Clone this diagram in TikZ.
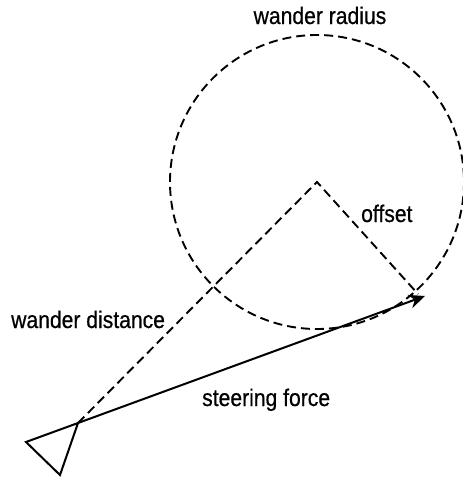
\documentclass[tikz,border=0pt]{standalone}
\usepackage{fontspec}
\setmainfont{Liberation Sans}[FakeStretch=0.88,FakeBold=0.6]
\usetikzlibrary{arrows.meta}
\begin{document}
\begin{tikzpicture}[x=1pt,y=-1pt,
  dline/.style={line width=1.9pt,dash pattern=on 9pt off 5pt},
  sline/.style={line width=2pt},
  lbl/.style={font=\fontsize{24}{27}\selectfont,inner sep=0pt,anchor=base}]
\useasboundingbox (0,0) rectangle (463,477);
\coordinate (c) at (317,182);
\coordinate (tip) at (425,296);
\coordinate (a) at (78,423);
\coordinate (l) at (26,442);
\coordinate (b) at (60,475);
\draw[dline] (c) circle[radius=147];
\draw[dline] (a) -- (c) -- (418,294);
\draw[sline,-{Stealth[length=16pt,width=14pt]}] (a) -- (tip);
\draw[sline,line join=miter] (a) -- (l) -- (b) -- cycle;
\node[lbl] (wr) at (320,24) {wander radius};
\node[lbl,anchor=base west] (off) at (361,222) {offset};
\node[lbl,anchor=base west] (wd) at (11,328) {wander distance};
\node[lbl,anchor=base west] (sf) at (202,406) {steering force};
\end{tikzpicture}
\end{document}
